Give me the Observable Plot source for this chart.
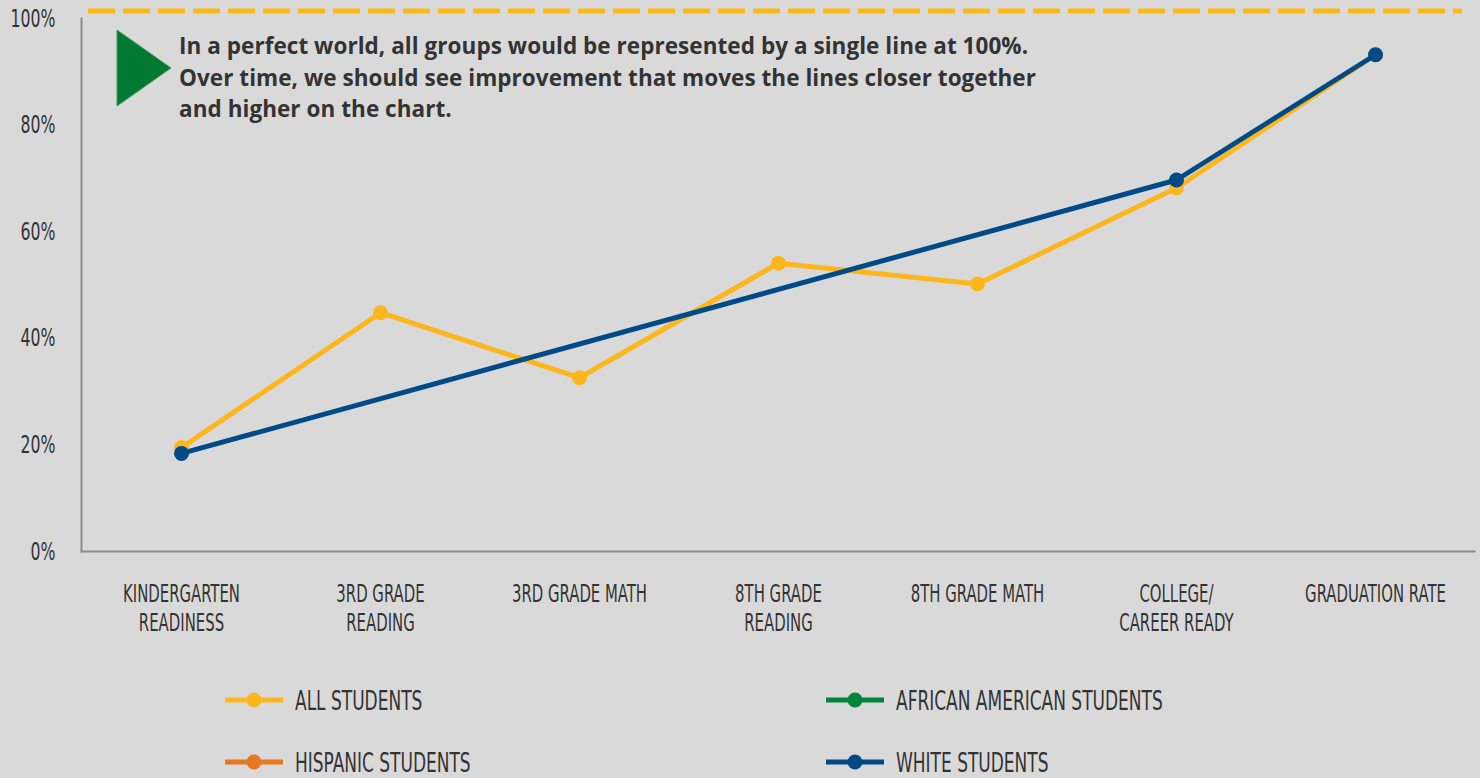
<!DOCTYPE html>
<html>
<head>
<meta charset="utf-8">
<script src="https://cdn.jsdelivr.net/npm/d3@7"></script>
<script src="https://cdn.jsdelivr.net/npm/@observablehq/plot@0.6"></script>
<style>
  html, body { margin: 0; padding: 0; background: #d9d9d9; }
  #wrap { position: relative; width: 1480px; height: 778px; background: #d9d9d9; overflow: hidden; }
  #note { position: absolute; left: 179px; top: 30px; font-family: "Open Sans", Lato, sans-serif; font-weight: 700; font-size: 22.5px; line-height: 31.5px; color: #333; white-space: nowrap; letter-spacing: 0.05px; }
  #tri { position: absolute; left: 115px; top: 28px; }
  .cond { font-family: "DejaVu Sans Condensed", "DejaVu Sans", sans-serif; font-stretch: condensed; }
  .legend { position: absolute; left: 0; top: 650px; width: 1480px; font-size: 27px; color: #333; }
  .item { position: absolute; display: flex; align-items: center; height: 34px; }
  .item svg { margin-right: 12px; flex: none; }
  .item span { display: inline-block; transform: scaleX(0.7); transform-origin: left center; white-space: nowrap; }
  #chart svg text { font-stretch: condensed; }
</style>
</head>
<body>
<div id="wrap">
  <div id="chart"></div>
  <svg id="tri" width="60" height="82"><polygon points="2,2 2,78 56,40" fill="#007A33" stroke="#3f9a5e" stroke-width="1"/></svg>
  <div id="note">In a perfect world, all groups would be represented by a single line at 100%.<br>Over time, we should see improvement that moves the lines closer together<br>and higher on the chart.</div>
  <div class="legend cond" id="legend"></div>
</div>
<script>
const categories = ["Kindergarten Readiness", "3rd Grade Reading", "3rd Grade Math", "8th Grade Reading", "8th Grade Math", "College/ Career Ready", "Graduation Rate"];
const tickLabels = ["KINDERGARTEN\nREADINESS", "3RD GRADE\nREADING", "3RD GRADE MATH", "8TH GRADE\nREADING", "8TH GRADE MATH", "COLLEGE/\nCAREER READY", "GRADUATION RATE"];
const allStudents = [19.5, 44.8, 32.6, 54.1, 50.2, 68.2, 93.2];
const africanAmericanStudents = [null, null, null, null, null, null, null];
const hispanicStudents = [null, null, null, null, null, null, null];
const whiteStudents = [18.4, null, null, null, null, 69.7, 93.2];
const seriesNames = ["ALL STUDENTS", "AFRICAN AMERICAN STUDENTS", "HISPANIC STUDENTS", "WHITE STUDENTS"];
const seriesColors = ["#FDB71C", "#00843D", "#E87722", "#004B87"];
const targetLine = [100];
const yTicks = [0, 20, 40, 60, 80, 100];

const seriesValues = [allStudents, africanAmericanStudents, hispanicStudents, whiteStudents];
const rows = [];
seriesValues.forEach((vals, s) => {
  vals.forEach((v, i) => rows.push({series: seriesNames[s], category: categories[i], value: v}));
});
const defined = d => d.value != null;

const marks = [
  Plot.frame({anchor: "left", stroke: "#8c8c8c", strokeWidth: 2}),
  Plot.frame({anchor: "bottom", stroke: "#8c8c8c", strokeWidth: 2}),
  Plot.ruleY(targetLine, {stroke: "#FDB913", strokeWidth: 5, strokeDasharray: "27,8", dy: -7.5, insetLeft: 7, insetRight: 12})
];
seriesNames.forEach((name, s) => {
  const data = rows.filter(r => r.series === name && defined(r));
  marks.push(Plot.line(data, {x: "category", y: "value", stroke: seriesColors[s], strokeWidth: 5}));
  marks.push(Plot.dot(data, {x: "category", y: "value", fill: seriesColors[s], r: 7.5}));
});

const chart = Plot.plot({
  width: 1480,
  height: 650,
  marginLeft: 81,
  marginRight: 6,
  marginTop: 18,
  marginBottom: 99,
  style: {background: "#d9d9d9", fontFamily: "'DejaVu Sans Condensed', 'DejaVu Sans', sans-serif", color: "#333"},
  x: {type: "point", domain: categories, padding: 0.5, label: null},
  y: {domain: [0, 100], label: null},
  marks: [
    Plot.axisY({ticks: yTicks, tickSize: 0, tickPadding: 26, tickFormat: d => d + "%", fontSize: 25, fill: "#333"}),
    Plot.axisX({tickSize: 0, tickPadding: 30, tickFormat: d => tickLabels[categories.indexOf(d)], fontSize: 24, lineHeight: 1.2, fill: "#333"}),
    ...marks
  ]
});
document.getElementById("chart").appendChild(chart);

// emulate a condensed display face by narrowing the tick labels horizontally
d3.select(chart).selectAll("g[aria-label='y-axis tick label'] text").each(function() {
  const t = this.getAttribute("transform") || "";
  this.setAttribute("transform", t + " scale(0.7,1)");
});
d3.select(chart).selectAll("g[aria-label='x-axis tick label'] text").each(function() {
  const t = this.getAttribute("transform") || "";
  this.setAttribute("transform", t + " scale(0.69,1)");
});

// legend
const legend = document.getElementById("legend");
const positions = [[225, 50], [826, 50], [225, 112], [826, 112]];
const legendOrder = [0, 1, 2, 3];
legendOrder.forEach((s, k) => {
  const [x, y] = positions[k];
  const div = document.createElement("div");
  div.className = "item";
  div.style.left = x + "px";
  div.style.top = (y - 17) + "px";
  div.innerHTML = `<svg width="58" height="20"><line x1="0" x2="58" y1="10" y2="10" stroke="${seriesColors[s]}" stroke-width="5"/><circle cx="29" cy="10" r="7.5" fill="${seriesColors[s]}"/></svg><span>${seriesNames[s]}</span>`;
  legend.appendChild(div);
});
</script>
</body>
</html>
